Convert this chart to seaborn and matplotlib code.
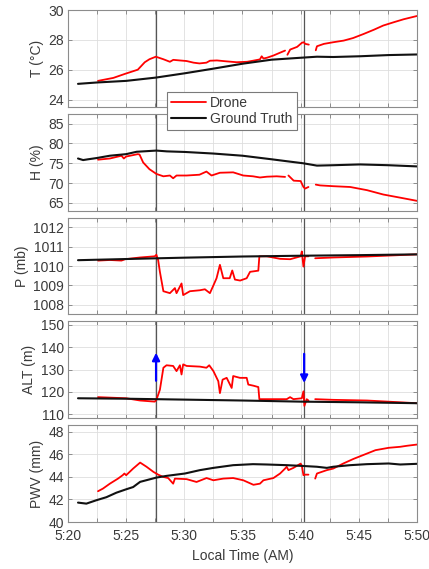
import numpy as np
import pandas as pd
import matplotlib
matplotlib.use("Agg")
import matplotlib.pyplot as plt
from matplotlib.lines import Line2D
import seaborn as sns

nan = np.nan

# ---------------- data (time in minutes after 5:20 AM) ----------------
T_gt_t = [0.86, 2.44, 5.0, 7.55, 10.05, 12.5, 15.0, 17.5, 20.0, 21.4, 22.8, 25.1, 27.56, 30.0]
T_gt = [25.05, 25.14, 25.25, 25.47, 25.76, 26.07, 26.4, 26.67, 26.8, 26.87, 26.85, 26.9, 26.98, 27.02]
T_dr_t = [2.58, 3.9, 4.9, 6.0, 6.3, 6.6, 7.0, 7.55, 8.2, 8.76, 9.05, 9.6, 10.2, 10.8, 11.3, 11.9,
          12.2, 12.8, 13.6, 14.5, 15.4, 15.9, 16.5, 16.65, 16.8, 17.1, 17.66, 18.2, 18.66, nan,
          18.86, 19.1, 19.7, 20.1, 20.25, 20.4, 20.7, nan,
          21.3, 21.4, 22.0, 22.8, 23.7, 24.5, 25.4, 26.3, 27.1, 28.0, 28.85, 30.0]
T_dr = [25.25, 25.45, 25.72, 26.0, 26.25, 26.5, 26.7, 26.87, 26.7, 26.53, 26.66, 26.62, 26.58, 26.47,
        26.42, 26.47, 26.6, 26.62, 26.56, 26.5, 26.53, 26.6, 26.69, 26.9, 26.75, 26.8, 26.95, 27.13,
        27.28, nan, 27.0, 27.35, 27.53, 27.8, 27.84, 27.73, 27.68, nan,
        27.3, 27.57, 27.73, 27.84, 27.95, 28.12, 28.39, 28.68, 28.96, 29.18, 29.38, 29.6]

H_gt_t = [0.86, 1.3, 1.73, 2.44, 3.6, 5.0, 5.9, 7.6, 8.5, 10.05, 12.5, 15.0, 17.5, 19.1, 20.2,
          21.4, 22.8, 25.1, 27.56, 30.0]
H_gt = [76.2, 75.8, 76.0, 76.3, 76.9, 77.3, 77.9, 78.2, 78.0, 77.85, 77.45, 76.9, 76.0, 75.4, 75.0,
        74.4, 74.5, 74.7, 74.5, 74.2]
H_dr_t = [2.58, 3.6, 4.6, 4.8, 5.0, 6.0, 6.15, 6.46, 7.0, 7.6, 8.2, 8.76, 9.04, 9.33, 10.2, 11.3,
          11.9, 12.34, 13.06, 14.2, 15.07, 15.9, 16.5, 17.1, 17.94, 18.66, nan,
          18.95, 19.4, 20.0, 20.24, 20.38, 20.67, nan,
          21.3, 21.67, 22.8, 24.26, 25.7, 27.1, 28.56, 30.0]
H_dr = [75.9, 76.2, 76.9, 76.2, 76.7, 77.3, 77.2, 75.2, 73.5, 72.3, 71.7, 71.9, 71.2, 71.9, 71.9,
        72.1, 72.9, 71.9, 72.6, 72.7, 71.9, 71.7, 71.4, 71.6, 71.7, 71.55, nan,
        71.9, 70.6, 70.5, 69.0, 68.6, 69.0, nan,
        69.6, 69.4, 69.2, 69.0, 68.2, 67.1, 66.3, 65.5]

P_gt_t = [0.86, 5.0, 10.0, 15.0, 20.0, 25.0, 30.0]
P_gt = [1010.3, 1010.36, 1010.43, 1010.49, 1010.53, 1010.56, 1010.6]
P_dr_t = [2.58, 3.6, 4.6, 4.9, 6.2, 7.46, 7.6, 7.75, 7.9, 8.2, 8.76, 9.19, 9.33, 9.76, 9.9, 10.48,
          11.34, 11.77, 12.2, 12.5, 12.77, 13.06, 13.35, 13.9, 14.12, 14.35, 14.8, 15.36, 15.65,
          16.36, 16.45, 17.1, 18.23, 19.1, 20.0, 20.1, 20.24, 20.38, 20.67, nan,
          21.25, 22.83, 25.7, 30.0]
P_dr = [1010.28, 1010.31, 1010.28, 1010.35, 1010.44, 1010.5, 1010.58, 1010.3, 1009.7, 1008.7,
        1008.6, 1008.86, 1008.6, 1009.1, 1008.5, 1008.7, 1008.75, 1008.8, 1008.6, 1009.0, 1009.37,
        1010.06, 1009.37, 1009.37, 1009.77, 1009.3, 1009.25, 1009.37, 1009.7, 1009.76, 1010.5,
        1010.5, 1010.37, 1010.35, 1010.5, 1010.75, 1009.97, 1010.5, 1010.5, nan,
        1010.4, 1010.44, 1010.49, 1010.6]

ALT_gt_t = [0.86, 5.0, 10.0, 15.0, 20.0, 25.0, 30.0]
ALT_gt = [117.2, 117.0, 116.6, 116.2, 115.7, 115.4, 115.0]
ALT_dr_t = [2.58, 5.0, 6.2, 7.46, 7.6, 7.9, 8.2, 8.47, 9.04, 9.33, 9.62, 9.76, 9.9, 10.2, 11.34,
            11.9, 12.14, 12.5, 12.92, 13.06, 13.29, 13.64, 14.07, 14.2, 14.78, 15.36, 15.5, 15.94,
            16.36, 16.45, 17.1, 18.8, 19.09, 19.38, 20.1, 20.24, 20.32, 20.52, 20.67, nan,
            21.25, 22.8, 25.7, 30.0]
ALT_dr = [117.7, 117.2, 116.2, 115.7, 116.5, 121.0, 130.8, 131.9, 131.6, 129.3, 131.9, 127.8,
          132.3, 131.6, 131.3, 130.8, 131.9, 129.3, 124.8, 119.5, 125.5, 126.3, 121.8, 127.1,
          126.3, 126.3, 123.3, 122.8, 122.2, 116.8, 116.8, 116.8, 117.7, 116.8, 117.2, 120.3,
          113.8, 116.8, 116.2, nan,
          116.8, 116.5, 116.2, 115.0]

PWV_gt_t = [0.86, 1.58, 2.44, 3.3, 4.16, 5.0, 5.6, 6.2, 7.6, 8.47, 10.05, 11.34, 12.5, 14.2, 15.9,
            17.1, 18.8, 20.0, 21.4, 22.25, 22.8, 24.26, 25.7, 27.56, 28.56, 30.0]
PWV_gt = [41.72, 41.63, 41.93, 42.2, 42.6, 42.9, 43.1, 43.56, 43.94, 44.09, 44.3, 44.6, 44.8,
          45.04, 45.13, 45.1, 45.04, 44.98, 44.9, 44.8, 44.9, 45.04, 45.13, 45.19, 45.1, 45.16]
PWV_dr_t = [2.58, 3.0, 3.6, 4.3, 4.7, 4.85, 5.0, 5.6, 6.2, 6.75, 7.35, 7.75, 8.18, 8.61, 9.04,
            9.19, 10.2, 11.05, 11.91, 12.5, 13.35, 14.2, 15.07, 15.94, 16.5, 16.8, 17.66, 18.23,
            18.66, 18.8, 18.95, 19.38, 20.0, 20.1, 20.24, 20.38, 20.67, nan,
            21.25, 21.4, 22.25, 22.8, 23.69, 24.55, 25.7, 26.43, 27.56, 28.56, 29.14, 30.0]
PWV_dr = [42.73, 42.96, 43.4, 43.85, 44.15, 44.3, 44.15, 44.74, 45.27, 44.9, 44.44, 44.2, 44.0,
          43.9, 43.4, 43.85, 43.8, 43.55, 43.9, 43.7, 43.85, 43.9, 43.7, 43.3, 43.4, 43.7, 43.9,
          44.3, 44.74, 44.9, 44.6, 44.8, 45.18, 45.0, 44.15, 44.2, 44.2, nan,
          43.85, 44.3, 44.6, 44.74, 45.2, 45.6, 46.07, 46.37, 46.58, 46.67, 46.76, 46.87]

y_labels = ["T (°C)", "H (%)", "P (mb)", "ALT (m)", "PWV (mm)"]
y_limits = [(23.5, 30), (63, 87.5), (1007.5, 1012.5), (108.3, 151.5), (40, 48.6)]
y_ticks = [[24, 26, 28, 30], [65, 70, 75, 80, 85], [1008, 1009, 1010, 1011, 1012],
           [110, 120, 130, 140, 150], [40, 42, 44, 46, 48]]
x_ticks = [0, 2.5, 5, 7.5, 10, 12.5, 15, 17.5, 20, 22.5, 25, 27.5, 30]
x_ticklabels = ["5:20", "", "5:25", "", "5:30", "", "5:35", "", "5:40", "", "5:45", "", "5:50"]
event_times = [7.57, 20.3]
arrow_from = [125.0, 137.0]
arrow_to = [137.5, 124.0]
legend_labels = ["Drone", "Ground Truth"]

# ---------------- style ----------------
sns.set_theme(style="ticks")
plt.rcParams["font.family"] = ["Liberation Sans", "DejaVu Sans"]
spine_c = "#8c8c8c"
text_c = "#3a3a3a"

fig = plt.figure(figsize=(4.29, 5.69), dpi=100)
axes = fig.subplots(5, 1, sharex=True)
fig.subplots_adjust(left=0.1585, right=0.972, top=0.9824, bottom=0.0826, hspace=0.07)


def make_df(t, v):
    df = pd.DataFrame({"t": t, "v": v})
    df["seg"] = df["v"].isna().cumsum()
    return df.dropna()


series = [(T_dr_t, T_dr, T_gt_t, T_gt), (H_dr_t, H_dr, H_gt_t, H_gt),
          (P_dr_t, P_dr, P_gt_t, P_gt), (ALT_dr_t, ALT_dr, ALT_gt_t, ALT_gt),
          (PWV_dr_t, PWV_dr, PWV_gt_t, PWV_gt)]

for i, ax in enumerate(axes):
    dt, dv, gt, gv = series[i]
    sns.lineplot(data=make_df(dt, dv), x="t", y="v", units="seg", estimator=None,
                 color="#ff0000", lw=1.3, ax=ax, legend=False, sort=False)
    sns.lineplot(data=make_df(gt, gv), x="t", y="v", units="seg", estimator=None,
                 color="#111111", lw=1.5, ax=ax, legend=False, sort=False)
    for et in event_times:
        ax.axvline(et, color="#555555", lw=0.9, zorder=1)
    ax.set_xlim(0, 30)
    ax.set_ylim(*y_limits[i])
    ax.set_yticks(y_ticks[i])
    ax.set_xticks(x_ticks)
    ax.grid(True, color="#dedede", lw=0.6)
    ax.set_axisbelow(True)
    ax.set_ylabel(y_labels[i], fontsize=10, color=text_c, labelpad=3)
    ax.set_xlabel("")
    ax.tick_params(direction="in", length=3, width=0.7, colors=spine_c, labelcolor=text_c,
                   labelsize=10, top=True, right=True, pad=3)
    for s in ax.spines.values():
        s.set_color(spine_c)
        s.set_linewidth(0.8)

axes[-1].set_xticklabels(x_ticklabels)
axes[-1].tick_params(axis="x", pad=5)
axes[-1].set_xlabel("Local Time (AM)", fontsize=10, color=text_c, labelpad=4)

for et, a0, a1 in zip(event_times, arrow_from, arrow_to):
    axes[3].annotate("", xy=(et, a1), xytext=(et, a0),
                     arrowprops=dict(arrowstyle="-|>", color="#0000ff", lw=1.6,
                                     mutation_scale=11, shrinkA=0, shrinkB=0), zorder=5)

handles = [Line2D([], [], color="#ff0000", lw=1.3), Line2D([], [], color="#111111", lw=1.5)]
leg = fig.legend(handles, legend_labels, loc="upper left",
                 bbox_to_anchor=(167 / 429, 1 - 92 / 569), frameon=True, fancybox=False,
                 framealpha=1, edgecolor="#7a7a7a", fontsize=10, handlelength=2.5,
                 handletextpad=0.3, labelspacing=0.15, borderpad=0.3, borderaxespad=0)
leg.get_frame().set_linewidth(0.8)
for txt in leg.get_texts():
    txt.set_color(text_c)

fig.savefig("out.png", dpi=100)
